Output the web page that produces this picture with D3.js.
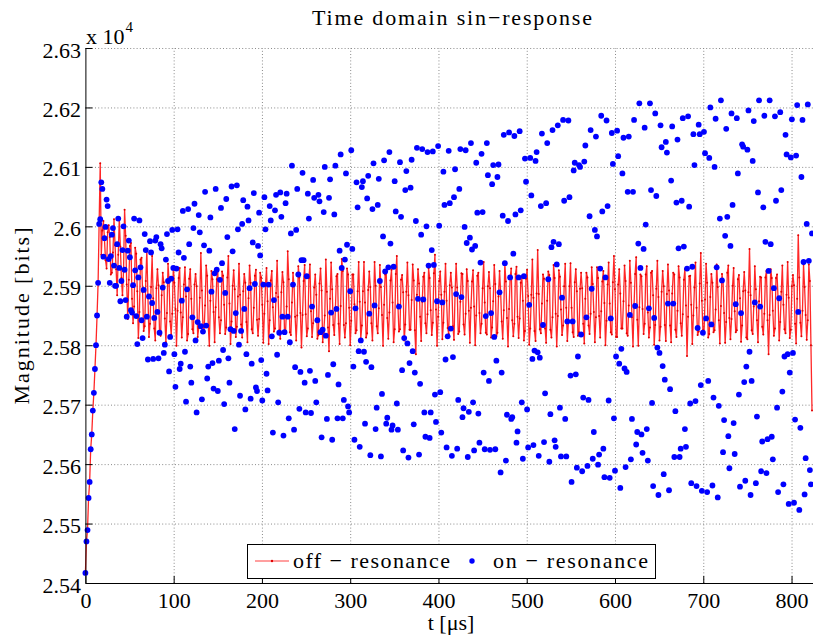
<!DOCTYPE html>
<html>
<head>
<meta charset="utf-8">
<script src="https://cdn.jsdelivr.net/npm/d3@7"></script>
<style>
  body { margin: 0; background: #fff; }
  svg { display: block; }
  text { font-family: "Liberation Serif", "DejaVu Serif", serif; fill: #000; }
</style>
</head>
<body>
<div id="chart"></div>
<script>
// sample spacing of both traces, in microseconds
var SAMPLE_STEP = 1.2;

// off-resonance trace (red line), bits
var offResonance = [
  25417,25470,25489,25543,25570, 25625,25650,25690,25720,25760,
  25800,25850,25905,26010,26106, 25952,25993,26009,25978,25943,
  25929,25990,26002,25982,25919, 25922,25956,26012,25968,25928,
  25884,25952,26014,25966,25913, 25884,25925,26028,25984,25902,
  25844,25910,25967,25972,25878, 25837,25865,25964,25954,25891,
  25812,25856,25944,25947,25889, 25824,25832,25908,25960,25885,
  25814,25836,25898,25950,25879, 25828,25808,25896,25928,25901,
  25820,25816,25884,25922,25906, 25845,25805,25854,25937,25908,
  25840,25818,25853,25931,25905, 25861,25799,25858,25913,25930,
  25855,25813,25847,25902,25931, 25882,25808,25819,25912,25928,
  25878,25827,25820,25902,25920, 25899,25814,25829,25880,25955,
  25892,25833,25822,25867,25934, 25917,25833,25799,25875,25925,
  25911,25856,25805,25864,25911, 25928,25847,25820,25842,25924,
  25917,25868,25819,25830,25914, 25950,25870,25802,25840,25900,
  25926,25894,25814,25831,25882, 25937,25885,25835,25813,25891,
  25920,25905,25839,25805,25879, 25934,25905,25827,25820,25863,
  25917,25927,25843,25816,25844, 25922,25914,25868,25804,25853,
  25900,25930,25874,25802,25842, 25909,25925,25864,25823,25828,
  25888,25942,25881,25825,25811, 25889,25923,25906,25819,25824,
  25865,25958,25911,25822,25817, 25872,25922,25899,25848,25808,
  25850,25933,25914,25854,25796, 25851,25908,25935,25852,25815,
  25828,25913,25936,25857,25814, 25837,25897,25919,25885,25811,
  25817,25904,25929,25892,25805, 25822,25850,25944,25890,25830,
  25790,25878,25939,25894,25834, 25817,25860,25916,25920,25836,
  25802,25866,25945,25925,25834, 25813,25837,25929,25919,25863,
  25800,25841,25919,25919,25869, 25820,25825,25891,25940,25873,
  25811,25833,25891,25940,25872, 25813,25820,25893,25924,25898,
  25837,25808,25864,25940,25900, 25832,25820,25862,25935,25898,
  25851,25799,25868,25919,25924, 25846,25811,25855,25909,25927,
  25872,25805,25827,25920,25950, 25869,25823,25827,25910,25918,
  25889,25808,25835,25890,25939, 25884,25826,25826,25876,25936,
  25909,25825,25785,25885,25928, 25904,25848,25807,25873,25915,
  25922,25837,25820,25852,25930, 25913,25859,25817,25838,25921,
  25952,25860,25799,25848,25908, 25924,25885,25810,25838,25890,
  25937,25875,25829,25819,25901, 25922,25897,25832,25809,25888,
  25937,25897,25819,25823,25873, 25921,25920,25835,25818,25853,
  25928,25908,25858,25804,25863, 25907,25926,25865,25800,25850,
  25917,25922,25854,25820,25836, 25896,25940,25872,25821,25818,
  25899,25923,25896,25813,25830, 25874,25935,25903,25815,25821,
  25882,25925,25891,25840,25811, 25859,25937,25907,25846,25798,
  25861,25914,25929,25842,25815, 25836,25920,25932,25848,25812,
  25845,25905,25916,25875,25808, 25824,25912,25927,25883,25801,
  25828,25885,25944,25880,25824, 25807,25887,25960,25886,25827,
  25820,25870,25919,25912,25828, 25804,25875,25924,25918,25826,
  25813,25847,25935,25913,25853, 25798,25849,25926,25915,25860,
  25817,25833,25899,25937,25863, 25807,25840,25899,25938,25863,
  25822,25814,25906,25928,25891, 25816,25822,25895,25922,25896,
  25836,25803,25878,25922,25914, 25833,25819,25853,25931,25903,
  25856,25805,25847,25931,25913, 25849,25813,25857,25907,25925,
  25871,25800,25841,25902,25939, 25870,25822,25818,25906,25950,
  25894,25814,25814,25902,25928, 25887,25828,25828,25874,25934,
  25908,25820,25816,25867,25942, 25905,25847,25798,25869,25920,
  25948,25843,25799,25864,25919, 25916,25861,25819,25836,25919,
  25933,25855,25813,25830,25922, 25925,25884,25801,25834,25895,
  25942,25881,25808,25831,25890, 25925,25899,25834,25807,25886,
  25936,25892,25833,25805,25887, 25922,25919,25826,25814,25858,
  25933,25914,25837,25816,25852, 25910,25928,25867,25782,25848,
  25916,25917,25868,25802,25850, 25897,25939,25863,25817,25823,
  25904,25955,25875,25825,25819, 25877,25937,25905,25813,25819,
  25881,25920,25905,25822,25825, 25860,25936,25898,25842,25803,
  25866,25920,25908,25854,25804, 25839,25922,25934,25846,25810,
  25844,25900,25930,25857,25822, 25825,25911,25918,25879,25806,
  25833,25891,25923,25892,25813, 25810,25889,25962,25884,25825,
  25819,25865,25933,25894,25842, 25805,25874,25915,25914,25831,
  25818,25853,25914,25925,25842, 25785,25851,25928,25913,25858,
  25816,25828,25913,25919,25877, 25808,25839,25890,25934,25868,
  25827,25820,25885,25940,25880, 25812,25826,25899,25918,25901,
  25836,25803,25878,25985,25914, 25838,25815,25858,25936,25898,
  25851,25809,25842,25936,25908, 25800,25690
];

// on-resonance samples (blue dots), bits
var onResonance = [
  25417,25470,25489,25543,25570, 25625,25650,25690,25720,25760,
  25800,25850,25905,26004,26012, 26074,26063,25949,25980,25999,
  26045,26034,25945,25905,25950, 25986,25997,25934,25900,25900,
  25970,26013,25930,25874,25908, 25960,26000,25927,25876,25848,
  25959,25976,25948,25859,25855, 25901,26013,25926,25849,25802,
  25914,26010,25931,25842,25812, 25893,25987,25960,25848,25776,
  25882,25975,25956,25871,25777, 25846,25976,25982,25856,25778,
  25821,25970,25963,25897,25787, 25801,25944,25987,25908,25756,
  25814,25912,25994,25930,25785, 25730,25929,25995,25956,25760,
  25769,25875,26026,25947,25789, 25705,25894,26029,25970,25764,
  25737,25847,25997,26038,25808, 25687,25839,26019,25990,25832,
  25709,25823,25968,26058,25833, 25744,25764,25959,26015,25890,
  25770,25727,25921,26063,25927, 25723,25774,25910,26031,25938,
  25792,25701,25888,26046,25982, 25778,25737,25827,26067,25958,
  25824,25659,25854,26069,25995, 25801,25715,25824,26004,26044,
  25861,25692,25785,26033,26010, 25896,25710,25769,25973,26056,
  25903,25729,25723,25967,26023, 25951,25775,25707,25902,26049,
  25995,25752,25724,25902,26034, 26010,25815,25653,25876,26027,
  26053,25784,25704,25821,26057, 26016,25848,25648,25822,26039,
  26055,25848,25677,25805,25988, 26102,25902,25658,25763,25994,
  26063,25919,25693,25755,25943, 26090,25943,25737,25687,25916,
  26055,26013,25757,25686,25865, 26078,26048,25740,25704,25842,
  26053,26042,25822,25645,25826, 26024,26100,25816,25676,25750,
  26048,26079,25855,25641,25768, 26020,26102,25861,25677,25734,
  25959,26121,25930,25677,25708, 25944,26089,25969,25697,25687,
  25891,26128,25962,25764,25641, 25862,26074,26032,25790,25629,
  25808,26066,26076,25789,25668, 25772,26047,26085,25853,25615,
  25763,26029,26106,25867,25659, 25695,26036,26080,25908,25613,
  25718,25983,26111,25924,25668, 25678,25931,26125,25971,25658,
  25665,25932,26076,26025,25702, 25658,25865,26108,26016,25758,
  25623,25812,26061,26093,25803, 25611,25770,26065,26112,25790,
  25667,25754,26009,26132,25878, 25616,25735,25986,26130,25877,
  25687,25646,26000,26125,25934, 25644,25687,25960,26126,25935,
  25717,25671,25874,26135,26001, 25721,25653,25872,26092,26036,
  25776,25628,25815,26127,26039, 25828,25614,25780,26049,26096,
  25886,25626,25708,26063,26130, 25881,25679,25694,25999,26128,
  25972,25612,25688,25981,26140, 25961,25704,25623,25967,26107,
  26023,25685,25636,25939,26122, 26024,25754,25625,25849,26140,
  26086,25740,25624,25854,26071, 26103,25814,25625,25774,26083,
  26104,25889,25586,25754,26018, 26154,25938,25606,25683,26009,
  26158,25914,25676,25679,25954, 26152,26020,25636,25655,25914,
  26160,26027,25704,25609,25916, 26114,26075,25692,25628,25868,
  26115,26052,25777,25632,25791, 26110,26125,25788,25614,25779,
  26034,26156,25834,25637,25719, 26039,26140,25911,25604,25684,
  25965,26162,25974,25640,25629, 25936,26170,25970,25695,25613,
  25880,26179,26043,25676,25613, 25840,26178,26049,25749,25570,
  25840,26094,26107,25751,25594, 25781,26103,26100,25818,25588,
  25712,26109,26136,25847,25597, 25708,26017,26162,25895,25609,
  25654,25994,26151,25983,25599, 25616,25929,26186,26025,25626,
  25578,25914,26178,26034,25707, 25577,25845,26157,26105,25677,
  25589,25781,26161,26118,25769, 25560,25794,26089,26149,25761,
  25595,25755,26058,26151,25851, 25608,25676,26058,26179,25866,
  25633,25654,25971,26207,25930, 25650,25619,25962,26166,26003,
  25659,25606,25862,26207,26061, 25703,25563,25846,26190,26051,
  25796,25548,25787,26170,26133, 25765,25583,25742,26142,26124,
  25870,25556,25726,26077,26168, 25870,25612,25689,26040,26146,
  25963,25612,25626,26043,26182, 25966,25659,25629,25929,26185,
  26033,25702,25568,25932,26155, 26103,25706,25563,25829,26171,
  26155,25733,25555,25821,26159, 26123,25845,25553,25740,26115,
  26200,25835,25564,25712,26100, 26181,25931,25544,25698,26013,
  26212,25909,25620,25674,25984, 26164,26016,25647,25593,25967,
  26190,26036,25669,25617,25869, 26182,26089,25717,25562,25854,
  26138,26134,25738,25572,25764, 26129,26195,25789,25548,25740,
  26110,26177,25872,25568,25680, 26057,26212,25865,25588,25638,
  26032,26186,25974,25585,25642, 25925,26212,25970,25646,25608,
  25896,26185,26043,25695,25553, 25879,26192,26061,25722,25566,
  25781,26154,26121,25785,25533, 25754,26116,26180,25787,25535,
  25675,26119,26204,25856,25523, 25661,26083,26179,25940,25549,
  25610,26004,26205,25942,25590, 25566,25988
];

var xTicks = [0, 100, 200, 300, 400, 500, 600, 700, 800];
var yTicks = [25400, 25500, 25600, 25700, 25800, 25900, 26000, 26100, 26200, 26300];

var width = 813, height = 637;
var plotLeft = 85.4, plotRight = 813.6, plotTop = 48, plotBottom = 583;

var svg = d3.select("#chart").append("svg")
    .attr("width", width)
    .attr("height", height);

var x = d3.scaleLinear().domain([0, 825]).range([plotLeft, plotRight]);
var y = d3.scaleLinear().domain([25400, 26300]).range([plotBottom, plotTop]);

function sampleTime(i) { return i * SAMPLE_STEP; }

// dotted grid
var gridX = svg.append("g")
    .attr("transform", "translate(0," + plotBottom + ")")
    .call(d3.axisBottom(x).tickValues(xTicks.slice(1)).tickSize(-(plotBottom - plotTop)).tickFormat(""));
var gridY = svg.append("g")
    .attr("transform", "translate(" + plotLeft + ",0)")
    .call(d3.axisLeft(y).tickValues(yTicks.slice(1)).tickSize(-(plotRight - plotLeft)).tickFormat(""));
[gridX, gridY].forEach(function (g) {
    g.select(".domain").remove();
    g.selectAll("line")
        .attr("stroke", "#8a8a8a")
        .attr("stroke-width", 1)
        .attr("stroke-dasharray", "1,2.2");
});

// plot area clip so the trace does not run past the right edge
svg.append("clipPath").attr("id", "clip")
    .append("rect")
    .attr("x", plotLeft - 4).attr("y", 0)
    .attr("width", plotRight - plotLeft + 4).attr("height", plotBottom + 4);

var plot = svg.append("g").attr("clip-path", "url(#clip)");

var line = d3.line()
    .x(function (d, i) { return x(sampleTime(i)); })
    .y(function (d) { return y(d); });

plot.append("path")
    .datum(offResonance)
    .attr("d", line)
    .attr("fill", "none")
    .attr("stroke", "#ff1010")
    .attr("stroke-opacity", 0.9)
    .attr("stroke-width", 1.3)
    .attr("stroke-linejoin", "round");

plot.selectAll(".off-marker")
    .data(offResonance)
    .enter()
    .append("circle")
    .attr("class", "off-marker")
    .attr("cx", function (d, i) { return x(sampleTime(i)); })
    .attr("cy", function (d) { return y(d); })
    .attr("r", 1)
    .attr("fill", "#e00000");

plot.selectAll(".on-marker")
    .data(onResonance)
    .enter()
    .append("circle")
    .attr("class", "on-marker")
    .attr("cx", function (d, i) { return x(sampleTime(i)); })
    .attr("cy", function (d) { return y(d); })
    .attr("r", 2.9)
    .attr("fill", "#0000ff");

// axes, ticks inside
var xAxis = svg.append("g")
    .attr("transform", "translate(0," + plotBottom + ")")
    .call(d3.axisBottom(x).tickValues(xTicks).tickSize(-7).tickSizeOuter(0).tickPadding(9));
var yAxis = svg.append("g")
    .attr("transform", "translate(" + plotLeft + ",0)")
    .call(d3.axisLeft(y).tickValues(yTicks).tickSize(-7).tickSizeOuter(0).tickPadding(4.5)
        .tickFormat(function (d) { return +(d / 1e4).toFixed(2); }));
[xAxis, yAxis].forEach(function (g) {
    g.selectAll("path, line").attr("stroke", "#000").attr("stroke-width", 1);
    g.selectAll("text")
        .style("font-family", '"Liberation Serif", serif')
        .style("font-size", "22px")
        .attr("fill", "#000");
});
yAxis.selectAll("text").attr("dy", "0.41em");

// exponent label
var expo = svg.append("text").attr("x", 86).attr("y", 43.5).style("font-size", "22px");
expo.append("tspan").text("x 10");
expo.append("tspan").attr("dx", 1).attr("dy", -12).style("font-size", "15px").text("4");

svg.append("text")
    .attr("x", 452).attr("y", 25)
    .attr("text-anchor", "middle")
    .attr("textLength", 280).attr("lengthAdjust", "spacing")
    .style("font-size", "22px")
    .text("Time domain sin\u2212response");

svg.append("text")
    .attr("x", 451).attr("y", 630)
    .attr("text-anchor", "middle")
    .style("font-size", "22px")
    .text("t [\u03bcs]");

svg.append("text")
    .attr("transform", "translate(29,316) rotate(-90)")
    .attr("text-anchor", "middle")
    .attr("textLength", 177).attr("lengthAdjust", "spacing")
    .style("font-size", "22px")
    .text("Magnitude [bits]");

// legend
var legend = svg.append("g");
legend.append("rect")
    .attr("x", 247.5).attr("y", 544.5)
    .attr("width", 408).attr("height", 34)
    .attr("fill", "#fff").attr("stroke", "#000").attr("stroke-width", 1);
legend.append("line")
    .attr("x1", 255).attr("x2", 289).attr("y1", 561).attr("y2", 561)
    .attr("stroke", "#ff2a2a").attr("stroke-opacity", 0.6).attr("stroke-width", 1.6);
legend.append("circle").attr("cx", 272).attr("cy", 561).attr("r", 1.2).attr("fill", "#e00000");
legend.append("text")
    .attr("x", 293).attr("y", 568)
    .attr("textLength", 157).attr("lengthAdjust", "spacing")
    .style("font-size", "22px")
    .text("off \u2212 resonance");
legend.append("circle").attr("cx", 472).attr("cy", 561).attr("r", 2.7).attr("fill", "#0000ff");
legend.append("text")
    .attr("x", 493).attr("y", 568)
    .attr("textLength", 155).attr("lengthAdjust", "spacing")
    .style("font-size", "22px")
    .text("on \u2212 resonance");
</script>
</body>
</html>
